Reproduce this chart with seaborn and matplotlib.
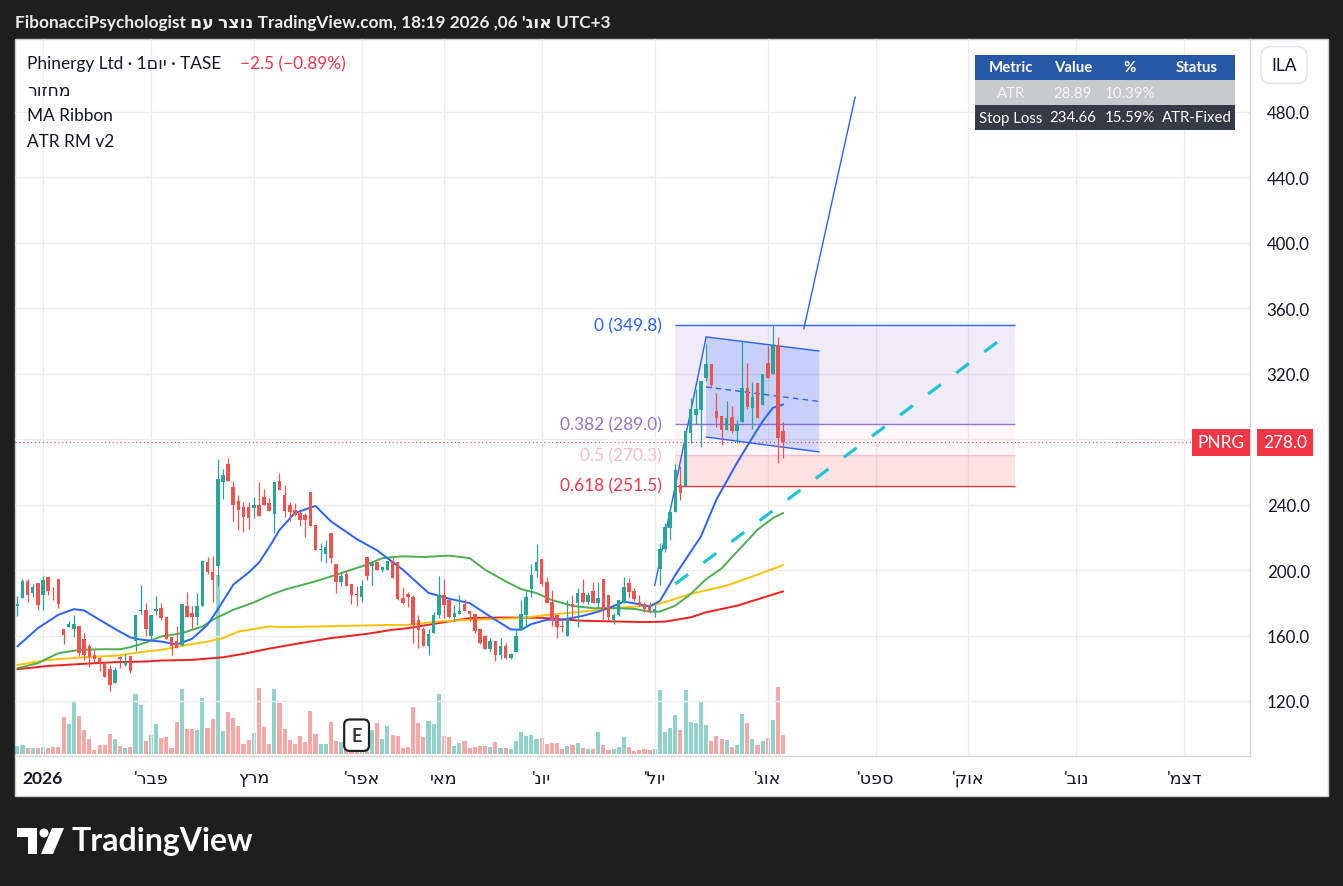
import matplotlib
matplotlib.use("Agg")
import matplotlib.pyplot as plt
import matplotlib.patches as mpatches
import matplotlib.transforms as mtransforms
import numpy as np
import pandas as pd
import seaborn as sns

# ---------------- data ----------------
opens = [177.8,182.7,193.5,185.7,192.2,184.5,195.9,187.3,194.7,164.1,
         164.9,164.1,165.9,158.0,153.7,148.2,146.1,142.9,139.6,131.2,
         146.7,141.8,147.6,156.9,174.9,175.7,159.4,174.7,176.9,171.6,
         158.8,156.7,154.3,177.8,173.9,171.6,177.8,205.1,199.0,202.2,
         253.7,265.1,251.0,242.4,238.8,238.8,237.8,240.0,244.7,241.0,
         234.3,254.3,246.1,240.0,236.9,234.9,233.9,247.8,227.8,212.0,
         209.8,222.7,203.9,192.4,197.6,191.4,185.5,183.5,207.8,202.2,
         204.7,200.2,199.8,205.3,204.9,182.9,185.5,183.5,169.2,163.9,
         153.3,161.8,172.3,184.5,181.8,171.6,173.3,179.4,174.7,173.1,
         164.1,159.8,151.6,156.7,148.2,153.7,146.1,149.8,163.9,172.6,
         188.4,199.6,206.7,192.9,180.7,172.6,166.1,160.0,179.1,180.1,
         186.2,180.7,187.2,180.1,194.5,184.8,169.6,172.4,180.1,191.9,
         187.4,180.7,179.1,177.7,174.2,200.5,212.9,225.7,235.3,252.2,
         251.6,283.5,294.5,297.8,317.6,325.7,297.1,294.1,285.9,293.5,
         284.9,290.4,311.4,299.2,314.1,300.6,326.3,320.0,337.3,284.9]
highs = [183.9,194.7,194.7,191.4,192.2,196.1,195.9,189.8,194.7,164.1,
         169.0,172.7,165.9,161.6,154.9,151.6,147.1,142.9,142.0,141.0,
         147.6,148.8,147.6,172.7,191.0,179.8,172.7,184.3,179.8,171.6,
         158.8,166.1,179.4,186.5,177.8,185.9,206.3,208.0,208.4,268.0,
         261.8,268.6,254.3,245.7,241.4,241.8,244.7,253.9,249.6,244.1,
         253.9,259.4,252.2,241.4,241.0,235.9,234.9,247.8,227.8,216.5,
         218.2,222.7,203.9,199.2,199.2,191.4,190.4,194.1,207.8,204.3,
         204.7,202.2,205.3,208.0,204.9,189.6,186.5,185.0,172.7,165.5,
         163.9,174.1,196.3,194.5,181.8,178.8,185.0,182.2,174.7,173.1,
         164.1,160.6,158.4,156.7,158.4,155.3,149.6,164.5,181.7,187.8,
         203.7,216.2,206.7,195.5,187.8,172.6,170.0,181.7,184.8,188.8,
         194.3,186.8,192.9,192.5,194.5,184.8,173.6,182.0,195.9,194.9,
         188.8,184.8,180.7,180.7,178.7,216.5,228.8,239.0,265.1,263.5,
         284.9,305.3,310.4,315.5,338.0,325.7,308.0,294.1,303.3,300.2,
         292.0,340.0,326.3,314.9,314.1,319.6,336.9,349.8,342.7,290.4]
lows = [172.2,182.7,180.2,183.3,175.3,175.7,184.5,181.8,177.1,154.9,
        164.9,158.8,147.6,144.9,141.0,143.5,138.6,134.9,126.3,131.2,
        140.0,141.4,137.3,150.8,173.1,160.0,157.0,172.7,169.6,158.0,
        147.8,152.2,153.3,171.6,164.1,166.5,177.8,197.8,180.6,190.0,
        243.5,254.3,230.2,224.7,223.3,225.1,231.8,232.9,240.0,235.9,
        222.7,249.2,232.2,229.8,232.9,227.1,220.2,226.7,212.4,205.3,
        204.3,204.3,185.7,190.0,190.0,179.4,178.2,180.2,193.7,191.0,
        199.8,198.6,199.8,195.1,181.8,179.4,177.6,155.3,152.5,153.3,
        148.2,161.8,170.6,170.6,170.6,169.0,173.3,174.7,168.6,161.8,
        155.1,151.8,150.2,144.7,145.5,145.5,145.5,149.8,163.5,165.5,
        183.8,196.0,190.3,180.1,165.9,158.4,161.9,160.0,171.0,165.5,
        179.7,179.1,179.7,176.7,169.0,169.6,167.1,172.0,180.1,182.8,
        181.3,178.3,174.6,174.0,171.6,190.6,211.0,218.6,235.3,243.1,
        251.6,277.8,289.0,275.3,315.5,312.0,287.6,276.7,285.5,283.9,
        277.8,290.4,298.6,286.3,292.7,300.6,317.6,320.0,265.5,268.8]
closes = [179.4,193.5,184.5,189.8,178.4,194.1,186.9,186.9,179.2,160.4,
          167.1,167.1,149.2,147.8,147.1,145.5,143.1,134.9,129.8,139.0,
          145.5,144.1,138.0,172.7,175.7,164.1,172.7,176.5,171.0,158.0,
          153.7,152.2,179.4,171.6,171.6,178.2,205.7,198.6,193.7,255.7,
          257.8,254.3,240.0,236.5,232.2,231.8,240.0,232.9,240.0,235.9,
          253.9,249.2,235.9,235.3,233.5,230.8,230.8,227.1,212.4,212.4,
          214.1,207.3,192.4,196.5,190.0,184.9,184.5,190.0,196.5,204.3,
          199.8,201.8,205.3,195.1,182.4,179.8,183.3,166.5,163.5,153.3,
          160.8,172.7,185.0,178.8,171.6,173.7,174.9,174.7,173.1,162.5,
          155.5,151.8,156.7,148.2,153.3,146.1,148.8,159.8,173.2,183.8,
          197.0,204.7,191.5,180.1,169.6,165.5,164.9,170.2,177.7,186.2,
          180.7,184.8,180.1,182.8,175.3,171.6,172.6,181.7,189.9,186.8,
          182.2,178.7,176.3,175.1,176.1,212.9,226.3,235.5,261.4,247.1,
          284.9,298.6,298.2,315.5,325.7,312.9,293.1,285.5,293.1,284.9,
          288.4,311.4,299.6,305.9,292.7,319.6,317.6,336.9,280.5,278.0]
volumes_10k = [8,9,6,6,6,7,6,7,7,37, 30,52,38,24,15,4,9,9,20,15,
               8,6,7,60,49,13,19,30,16,17, 6,32,65,25,25,24,56,26,35,178,
               23,42,36,28,10,14,21,66,27,10, 65,51,25,14,10,18,12,43,20,10,
               10,32,13,12,8,10,6,8,15,24, 31,15,28,19,18,6,7,47,31,17,
               33,30,60,18,17,8,11,13,6,7, 8,8,7,12,6,6,5,13,22,18,
               19,15,16,10,11,11,5,8,9,11, 6,5,5,22,9,4,5,7,17,7,
               3,4,5,4,5,64,22,26,39,24, 64,32,31,53,29,13,18,15,14,7,
               9,40,31,15,9,13,16,34,67,19]

ma_blue_idx = [0,4,8,11,13,16,19,22,24,28,31,34,37,39,42,45,47,49,51,54,58,61,66,70,75,
               80,84,88,92,96,98,100,103,106,110,113,115,118,120,123,125,128,133,136,140,143,145,147,149]
ma_blue_val = [153.3,164.5,172.7,176.1,175.3,169.6,164.0,158.8,157.5,156.3,154.5,158.0,166.5,176.0,
               191.0,198.5,204.5,214.0,224.5,234.9,239.2,229.8,219.0,212.0,200.2,186.0,182.5,179.8,
               171.6,163.7,163.5,167.0,169.6,169.6,172.0,174.6,176.7,180.7,179.7,177.7,181.1,197.0,
               220.6,243.1,265.5,281.0,291.0,299.2,301.2]
ma_green_idx = [0,4,8,12,16,20,22,25,28,32,36,38,42,46,49,52,58,62,68,71,75,79,84,88,91,95,98,
                101,104,108,112,116,120,123,125,128,131,134,137,141,144,147,149]
ma_green_val = [140.0,143.1,149.2,151.2,151.6,151.6,152.9,155.7,159.4,161.4,165.5,169.6,175.7,180.2,
                184.5,188.0,193.1,197.1,203.3,207.3,208.4,208.0,208.8,207.3,200.2,193.1,188.4,185.9,
                181.7,178.1,176.7,176.7,176.3,174.6,174.6,178.2,185.4,194.5,201.0,214.5,224.7,231.8,234.9]
ma_yellow_idx = [0,6,13,19,25,28,32,37,40,43,49,52,58,64,73,76,82,88,94,98,103,110,116,123,125,
                 131,138,144,149]
ma_yellow_val = [142.0,145.1,146.7,147.6,150.2,151.2,153.7,156.3,158.4,162.4,165.5,165.1,165.5,165.9,
                 166.5,166.5,168.6,169.6,170.2,170.6,172.6,174.6,176.7,178.3,179.5,185.4,190.5,197.2,203.1]
ma_red_idx = [0,6,13,19,25,28,34,40,44,49,55,61,68,73,76,82,88,94,102,110,116,122,126,131,134,140,149]
ma_red_val = [139.4,141.4,142.7,143.7,144.1,144.7,145.1,146.7,148.8,152.0,155.3,158.4,161.0,163.5,
              164.5,167.6,170.6,171.0,170.8,169.0,168.6,168.2,168.5,171.1,174.2,178.2,187.0]

month_ticks = [5, 26, 46, 67, 83, 102, 124, 146, 167, 185, 206, 227]
month_labels = ["2026", "פבר'", "מרץ", "אפר'", "מאי", "יונ'", "יול'", "אוג'", "ספט'", "אוק'", "נוב'", "דצמ'"]
price_ticks = [120, 160, 200, 240, 280, 320, 360, 400, 440, 480]

fib_levels = [0, 0.382, 0.5, 0.618]
fib_prices = [349.8, 289.0, 270.3, 251.5]
fib_span = [128, 194]

pole_idx = [124, 134]
pole_price = [190.6, 342.5]
chan_idx = [134, 156]
chan_top = [342.5, 333.9]
chan_bot = [281.3, 272.2]
proj_idx = [153, 163]
proj_price = [347.4, 489.2]
trend_idx = [128, 193.5]
trend_price = [191.5, 346.1]
earnings_idx = 66

table_header = ["Metric", "Value", "%", "Status"]
table_atr = ["ATR", "28.89", "10.39%", ""]
table_stop = ["Stop Loss", "234.66", "15.59%", "ATR-Fixed"]

# ---------------- style ----------------
W, H = 1343, 887
sns.set_style("white")
plt.rcParams['font.family'] = ['Lato', 'DejaVu Sans']

UP, DOWN = '#26a69a', '#ef5350'
TXT = '#131722'
FS = 12.4

def rtl(s):
    return s[::-1]

def fx(px):
    return px / W

def fy(py):
    return 1 - py / H

fig = plt.figure(figsize=(W / 100, H / 100), dpi=100)
fig.patch.set_facecolor('#1e1e1e')
fig.add_artist(mpatches.Rectangle((fx(15), fy(797)), fx(1328) - fx(15), fy(40) - fy(797),
                                  transform=fig.transFigure, facecolor='white',
                                  edgecolor='#cfcfcf', lw=1, zorder=-5))

ax = fig.add_axes([fx(15), fy(757), fx(1250) - fx(15), fy(40) - fy(757)])
ax_vol = ax.twinx()
ax.set_zorder(ax_vol.get_zorder() + 1)
ax.patch.set_visible(False)

idx = np.arange(len(closes))
df = pd.DataFrame({'i': idx, 'o': opens, 'h': highs, 'l': lows, 'c': closes, 'v': volumes_10k})
up = df['c'] >= df['o']
colors = np.where(up, UP, DOWN)

# volume
ax_vol.bar(df['i'], df['v'], width=0.8, color=colors, alpha=0.5, linewidth=0, zorder=1)
vtop = df['v'].max() * 4.0
ax_vol.set_ylim(-vtop * 0.0028, vtop)
ax_vol.set_yticks([])
for s in ax_vol.spines.values():
    s.set_visible(False)

# fib retracement
fib_colors = ['#2962ff', '#9575cd', '#f8bbd0', '#f23645']
for k in range(1, len(fib_prices)):
    ax.fill_between(fib_span, fib_prices[k - 1], fib_prices[k], color=fib_colors[k],
                    alpha=0.14 if k != 2 else 0.12, lw=0, zorder=1)
for lvl, p, c in zip(fib_levels, fib_prices, fib_colors):
    ax.hlines(p, fib_span[0], fib_span[1], color=c, lw=1.0, zorder=2)
    ax.text(fib_span[0] - 2.6, p, f"{lvl} ({p:.1f})", color=c, ha='right', va='center',
            fontsize=FS, zorder=6)

# flag channel
ax.fill([chan_idx[0], chan_idx[1], chan_idx[1], chan_idx[0]],
        [chan_top[0], chan_top[1], chan_bot[1], chan_bot[0]],
        color='#2962ff', alpha=0.2, lw=0, zorder=2)
ax.plot(chan_idx, chan_top, color='#2962ff', lw=1.0, zorder=3)
ax.plot(chan_idx, chan_bot, color='#2962ff', lw=1.0, zorder=3)
chan_mid = [(a + b) / 2 for a, b in zip(chan_top, chan_bot)]
ax.plot(chan_idx, chan_mid, color='#2962ff', lw=1.0, ls=(0, (4, 3)), zorder=3)
ax.plot(pole_idx, pole_price, color='#2962ff', lw=1.0, zorder=3)
ax.plot(proj_idx, proj_price, color='#2962ff', lw=1.0, zorder=3)

# moving averages (MA Ribbon)
for mi, mv, c in [(ma_red_idx, ma_red_val, '#f0201d'), (ma_yellow_idx, ma_yellow_val, '#ffc107'),
                  (ma_green_idx, ma_green_val, '#4caf50'), (ma_blue_idx, ma_blue_val, '#2962ff')]:
    sns.lineplot(x=mi, y=mv, ax=ax, color=c, lw=1.4, estimator=None, sort=False,
                 legend=False, zorder=3)

# candles
ax.vlines(df['i'], df['l'], df['h'], colors=colors, lw=0.9, zorder=4)
body_lo = np.minimum(df['o'], df['c'])
body_h = np.maximum(np.abs(df['c'] - df['o']), 0.6)
ax.bar(df['i'], body_h, bottom=body_lo, width=0.68, color=colors, linewidth=0, zorder=5)

# trend line
ax.plot(trend_idx, trend_price, color='#1fc3d8', lw=2.3, ls=(0, (5, 6)), zorder=6,
        solid_capstyle='butt', dash_capstyle='butt')

# last price line
last = closes[-1]
ax.axhline(last, color='#f23645', lw=0.8, ls=(0, (1, 2.5)), zorder=2)

# axes (the 280.0 label is covered by the last-price label, as in the reference)
ax.set_xlim(-0.45, 239.8)
ax.set_ylim(86.35, 524.6)
ax.yaxis.tick_right()
ax.set_yticks(price_ticks)
ax.set_yticklabels(["" if abs(p - last) < 12 else f"{p:.1f}" for p in price_ticks])
ax.set_xticks(month_ticks)
ax.set_xticklabels([m if m.isdigit() else rtl(m) for m in month_labels])
ax.tick_params(axis='y', length=0, pad=12, labelsize=12.2, labelcolor=TXT)
ax.tick_params(axis='x', length=0, pad=10, labelsize=12.6, labelcolor=TXT)
ax.get_xticklabels()[0].set_fontweight('bold')
ax.set_xlabel('')
ax.set_ylabel('')
ax.grid(True, color='#ededed', lw=1)
ax.set_axisbelow(True)
for name, s in ax.spines.items():
    if name in ('top', 'left'):
        s.set_visible(False)
    else:
        s.set_color('#d6d6d6')
        s.set_linewidth(1)

# earnings marker
ax.annotate('E', xy=(earnings_idx, 0.029), xycoords=('data', 'axes fraction'),
            ha='center', va='center', fontsize=13, fontweight='bold', color='#333333',
            bbox=dict(boxstyle='round,pad=0.4,rounding_size=0.3', fc='white', ec='#222222', lw=1.6),
            zorder=8)

# last price labels on the price scale
trans = mtransforms.blended_transform_factory(fig.transFigure, ax.transData)
fig.text(fx(1221), last, "PNRG", transform=trans, ha='center', va='center', color='white',
         fontsize=FS, bbox=dict(boxstyle='square,pad=0.33', fc='#f23645', ec='none'))
fig.text(fx(1285), last, f"{last:.1f}", transform=trans, ha='center', va='center', color='white',
         fontsize=FS, bbox=dict(boxstyle='square,pad=0.33', fc='#f23645', ec='none'))

# ILA
fig.text(fx(1284), fy(66), "ILA", ha='center', va='center', color=TXT, fontsize=12.5,
         bbox=dict(boxstyle='round,pad=0.6', fc='white', ec='#e0e3eb'))

# table
col_edges = [975, 1047, 1100, 1160, 1235]
row_edges = [56, 81, 106, 131]
row_fc = ['#2658a6', '#c8c9cd', '#363a45']
row_tc = ['white', '#f5f5f5', 'white']
rows = [table_header, table_atr, table_stop]
col_cent = [1011, 1073, 1130, 1197]
for r, (cells, fc, tc) in enumerate(zip(rows, row_fc, row_tc)):
    fig.add_artist(mpatches.Rectangle((fx(col_edges[0]), fy(row_edges[r + 1])),
                                      fx(col_edges[-1]) - fx(col_edges[0]),
                                      fy(row_edges[r]) - fy(row_edges[r + 1]),
                                      transform=fig.transFigure, facecolor=fc, edgecolor='none',
                                      zorder=4))
    for cx, txt in zip(col_cent, cells):
        fig.text(fx(cx), fy((row_edges[r] + row_edges[r + 1]) / 2), txt, ha='center', va='center',
                 color=tc, fontsize=10.8, fontweight='bold' if r == 0 else 'normal', zorder=5)

# legend texts
chg = closes[-1] - closes[-2]
pct = chg / closes[-2] * 100
fig.text(fx(27), fy(64), "Phinergy Ltd · 1" + rtl("יום") + " · TASE", color=TXT, fontsize=FS,
         va='center')
fig.text(fx(240), fy(64), f"{chg:.1f} ({pct:.2f}%)".replace('-', '\u2212'), color='#f23645',
         fontsize=FS, va='center')
fig.text(fx(27), fy(91), rtl("מחזור"), color=TXT, fontsize=FS, va='center')
fig.text(fx(27), fy(116), "MA Ribbon", color=TXT, fontsize=FS, va='center')
fig.text(fx(27), fy(142), "ATR RM v2", color=TXT, fontsize=FS, va='center')

# header
header = ("FibonacciPsychologist " + rtl("נוצר עם") + " TradingView.com, 18:19 2026 ,06 "
          + rtl("אוג'") + " UTC+3")
fig.text(fx(15), fy(23), header, color='#ededed', fontsize=12.4, fontweight='bold', va='center')

# TradingView logo
fig.add_artist(mpatches.Rectangle((fx(17), fy(838)), fx(37) - fx(17), fy(829) - fy(838),
                                  transform=fig.transFigure, fc='white', ec='none'))
fig.add_artist(mpatches.Rectangle((fx(28), fy(855)), fx(37) - fx(28), fy(829) - fy(855),
                                  transform=fig.transFigure, fc='white', ec='none'))
fig.add_artist(mpatches.Ellipse((fx(44), fy(834)), 9 / W, 9 / H, transform=fig.transFigure,
                                fc='white', ec='none'))
fig.add_artist(mpatches.Polygon([(fx(52), fy(829)), (fx(64), fy(829)), (fx(53), fy(855)),
                                 (fx(41), fy(855))], closed=True, transform=fig.transFigure,
                                fc='white', ec='none'))
fig.text(fx(72), fy(842), "TradingView", color='white', fontsize=23, fontweight='bold',
         va='center')

fig.savefig("out.png", dpi=100, facecolor=fig.get_facecolor())
